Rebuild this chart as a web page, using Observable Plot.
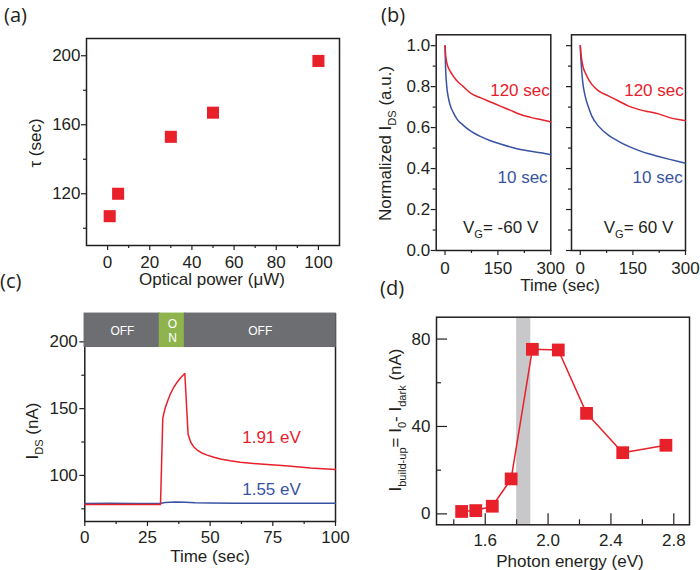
<!DOCTYPE html>
<html><head><meta charset="utf-8">
<script src="https://cdn.jsdelivr.net/npm/d3@7"></script>
<script src="https://cdn.jsdelivr.net/npm/@observablehq/plot@0.6"></script>
<style>
body{margin:0;background:#fff}
#fig{position:relative;width:700px;height:570px;overflow:hidden;background:#fff}
</style></head><body><div id="fig"></div>
<script>
const RED = "#e8202a", BLUE = "#3953a4", INK = "#231f20", GRAY_BAR = "#6d6e71", GREEN = "#8fb44e", BAND = "#c8c8ca";
const FONT = "'Liberation Sans', Arial, sans-serif";

// (a) relaxation time vs optical power
const aPower = [1, 5, 30, 50, 100];
const aTau = [107, 120, 153, 167, 197];
const aXMajor = [0, 20, 40, 60, 80, 100], aXMinor = [10, 30, 50, 70, 90];
const aYMajor = [120, 160, 200], aYMinor = [100, 140, 180];

// (b) normalized decay curves
const bLeftRedT = [0, 2, 4.8, 10, 14, 20, 33, 52, 71, 100, 129, 157, 186, 214, 243, 271, 300];
const bLeftRedV = [1.0, 0.95, 0.918, 0.89, 0.877, 0.86, 0.83, 0.80, 0.77, 0.746, 0.725, 0.705, 0.684, 0.664, 0.65, 0.639, 0.628];
const bLeftBlueT = [0, 1, 2, 5, 9.5, 14, 24, 33, 52, 71, 100, 129, 157, 186, 214, 243, 271, 300];
const bLeftBlueV = [1.0, 0.93, 0.877, 0.80, 0.746, 0.713, 0.672, 0.644, 0.611, 0.585, 0.557, 0.536, 0.52, 0.505, 0.493, 0.484, 0.477, 0.467];
const bRightRedT = [0, 2, 4.7, 9, 14, 22, 33, 52, 81, 109, 138, 166, 195, 223, 252, 280, 300];
const bRightRedV = [1.0, 0.96, 0.926, 0.89, 0.869, 0.84, 0.811, 0.779, 0.754, 0.73, 0.705, 0.689, 0.677, 0.667, 0.65, 0.639, 0.634];
const bRightBlueT = [0, 1, 2.8, 6.6, 14, 24, 33, 52, 81, 109, 138, 166, 195, 223, 252, 280, 300];
const bRightBlueV = [1.0, 0.96, 0.91, 0.828, 0.754, 0.697, 0.656, 0.607, 0.562, 0.533, 0.508, 0.489, 0.472, 0.459, 0.446, 0.434, 0.426];
const bXMajor = [0, 150, 300], bXMinor = [75, 225];
const bYMajor = [0, 0.2, 0.4, 0.6, 0.8, 1.0], bYMinor = [0.1, 0.3, 0.5, 0.7, 0.9];

// (c) I_DS vs time
const cRedT = [0, 10, 20, 30.2, 31.1, 31.6, 32.2, 33.0, 34.2, 35.5, 36.9, 38.4, 39.9, 41.2, 42.2, 43.4, 44.8, 46.5, 48.8, 51.5, 54.1, 58, 62, 70, 80, 90, 100];
const cRedV = [78.2, 78.2, 78.3, 78.3, 142.5, 147, 151.2, 155.5, 161.3, 166, 170, 173.5, 176.3, 130.8, 125, 121.5, 119, 117, 115.2, 113.6, 112.3, 110.9, 109.8, 108.5, 107.2, 105.6, 104.5];
const cBlueT = [0, 10, 20, 30, 32, 36, 40, 44, 50, 60, 70, 80, 90, 100];
const cBlueV = [79.0, 79.1, 79.0, 79.0, 79.8, 80.1, 80.0, 79.6, 79.4, 79.2, 79.1, 79.1, 79.2, 79.2];
const cPhaseStart = [0, 30, 40], cPhaseEnd = [30, 40, 100];
const cPhaseLabel = ["OFF", "O\nN", "OFF"], cPhaseOn = [false, true, false];
const cXMajor = [0, 25, 50, 75, 100], cXMinor = [12.5, 37.5, 62.5, 87.5];
const cYMajor = [100, 150, 200], cYMinor = [75, 125, 175];

// (d) build-up current vs photon energy
const dEnergy = [1.45, 1.54, 1.645, 1.765, 1.9, 2.065, 2.245, 2.475, 2.75];
const dBuildUp = [1.1, 1.5, 3.5, 16, 75.3, 75, 46, 28, 31.4];
const dBand = [1.80, 1.89];
const dXMajor = [1.6, 2.0, 2.4, 2.8], dXMinor = [1.4, 1.8, 2.2, 2.6];
const dYMajor = [0, 40, 80], dYMinor = [20, 60];

const fig = document.getElementById("fig");
const zip = (a, b) => a.map((x, i) => ({x, y: b[i]}));
const svgStyle = (l, t) => `position:absolute;left:${l}px;top:${t}px;font-family:${FONT};font-size:17px;color:${INK};background:transparent;overflow:visible;max-width:none`;
const none = () => "";

function outAxes(xMajor, xMinor, yMajor, yMinor, o = {}) {
  const {xFmt, yFmt, yText = true, xPad = 5, yPad = 2, major = 5, minor = 3} = o;
  return [
    Plot.axisX({ticks: xMajor, tickSize: major, tickPadding: xPad, tickFormat: xFmt, fontSize: 17, label: null, strokeWidth: 1.2}),
    Plot.axisX({ticks: xMinor, tickSize: minor, tickFormat: none, label: null, strokeWidth: 1.2}),
    Plot.axisY({ticks: yMajor, tickSize: major, tickPadding: yPad, tickFormat: yText ? yFmt : none, fontSize: 17, label: null, strokeWidth: 1.2}),
    Plot.axisY({ticks: yMinor, tickSize: minor, tickFormat: none, label: null, strokeWidth: 1.2})
  ];
}

function appendParts(sel, parts, size) {
  let shift = 0;
  for (const p of parts) {
    const isSub = Array.isArray(p);
    const ts = sel.append("tspan").text(isSub ? p[0] : p);
    const target = isSub ? Math.round(size * 0.3) : 0;
    if (target !== shift) { ts.attr("dy", target - shift); shift = target; }
    if (isSub) ts.attr("font-size", size * 0.65);
  }
}
function subify(svg, size) {
  d3.select(svg).selectAll("text").each(function () {
    const s = this.textContent;
    if (!s.includes("{")) return;
    const parts = s.split(/(\{[^}]*\})/).filter(Boolean).map(p => p[0] === "{" ? [p.slice(1, -1)] : p);
    this.textContent = "";
    appendParts(d3.select(this), parts, size);
  });
}

// ---------- (a)
fig.appendChild(Plot.plot({
  width: 350, height: 290, marginLeft: 86, marginRight: 11, marginTop: 38, marginBottom: 45,
  style: svgStyle(0, 0),
  x: {domain: [-10, 110]}, y: {domain: [90, 210]},
  marks: [
    ...outAxes(aXMajor, aXMinor, aYMajor, aYMinor, {xPad: 5, yPad: 1}),
    Plot.frame({stroke: INK, strokeWidth: 1.5}),
    Plot.dot(zip(aPower, aTau), {x: "x", y: "y", symbol: "square", r: 6.8, fill: RED})
  ]
}));

// ---------- (b) left
const bYDomain = [0, 1.053], bXDomain = [-25, 300];
const bLeft = Plot.plot({
  width: 190, height: 290, marginLeft: 55.7, marginRight: 19.7, marginTop: 34.3, marginBottom: 40,
  style: svgStyle(380, 0),
  x: {domain: bXDomain}, y: {domain: bYDomain},
  marks: [
    ...outAxes(bXMajor, bXMinor, bYMajor, bYMinor, {xPad: 6, yPad: 1, yFmt: d3.format(".1f")}),
    Plot.frame({stroke: INK, strokeWidth: 1.5}),
    Plot.line(zip(bLeftBlueT, bLeftBlueV), {x: "x", y: "y", stroke: BLUE, strokeWidth: 1.5, curve: "monotone-x"}),
    Plot.line(zip(bLeftRedT, bLeftRedV), {x: "x", y: "y", stroke: RED, strokeWidth: 1.5, curve: "monotone-x"}),
    Plot.text(["120 sec"], {x: 297, y: 0.782, textAnchor: "end", fill: RED, fontSize: 17}),
    Plot.text(["10 sec"], {x: 291, y: 0.355, textAnchor: "end", fill: BLUE, fontSize: 17}),
    Plot.text(["V{G}= -60 V"], {x: 51, y: 0.111, textAnchor: "start", fill: INK, fontSize: 17})
  ]
});
subify(bLeft, 17);
fig.appendChild(bLeft);

// ---------- (b) right
const bRight = Plot.plot({
  width: 140, height: 290, marginLeft: 11, marginRight: 15, marginTop: 34.3, marginBottom: 40,
  style: svgStyle(560, 0),
  x: {domain: bXDomain}, y: {domain: bYDomain},
  marks: [
    ...outAxes(bXMajor, bXMinor, bYMajor, bYMinor, {xPad: 6, yText: false}),
    Plot.frame({stroke: INK, strokeWidth: 1.5}),
    Plot.line(zip(bRightBlueT, bRightBlueV), {x: "x", y: "y", stroke: BLUE, strokeWidth: 1.5, curve: "monotone-x"}),
    Plot.line(zip(bRightRedT, bRightRedV), {x: "x", y: "y", stroke: RED, strokeWidth: 1.5, curve: "monotone-x"}),
    Plot.text(["120 sec"], {x: 295, y: 0.782, textAnchor: "end", fill: RED, fontSize: 17}),
    Plot.text(["10 sec"], {x: 292, y: 0.355, textAnchor: "end", fill: BLUE, fontSize: 17}),
    Plot.text(["V{G}= 60 V"], {x: 67, y: 0.111, textAnchor: "start", fill: INK, fontSize: 17})
  ]
});
subify(bRight, 17);
fig.appendChild(bRight);

// ---------- (c)
const cYDomain = [65.5, 221], cBarBottom = 196.3;
const cPhases = cPhaseStart.map((s, i) => ({s, e: cPhaseEnd[i], label: cPhaseLabel[i], on: cPhaseOn[i]}));
fig.appendChild(Plot.plot({
  width: 350, height: 280, marginLeft: 84.3, marginRight: 15, marginTop: 23.3, marginBottom: 49,
  style: svgStyle(0, 290),
  x: {domain: [0, 100]}, y: {domain: cYDomain},
  marks: [
    ...outAxes(cXMajor, cXMinor, cYMajor, cYMinor, {xPad: 4, yPad: 2}),
    Plot.frame({stroke: INK, strokeWidth: 1.5}),
    Plot.rect(cPhases, {x1: "s", x2: "e", y1: cBarBottom, y2: cYDomain[1], fill: d => d.on ? GREEN : GRAY_BAR, stroke: d => d.on ? GREEN : GRAY_BAR, strokeWidth: 1.5}),
    Plot.text(cPhases, {x: d => (d.s + d.e) / 2, y: (cBarBottom + cYDomain[1]) / 2, text: "label", fill: "white", fontSize: 12, lineHeight: 1.2}),
    Plot.line(zip(cBlueT, cBlueV), {x: "x", y: "y", stroke: BLUE, strokeWidth: 1.5}),
    Plot.line(zip(cRedT, cRedV), {x: "x", y: "y", stroke: RED, strokeWidth: 1.5}),
    Plot.text(["1.91 eV"], {x: 62.8, y: 128.3, textAnchor: "start", fill: RED, fontSize: 17}),
    Plot.text(["1.55 eV"], {x: 62.8, y: 89.6, textAnchor: "start", fill: BLUE, fontSize: 17})
  ]
}));

// ---------- (d)
const dXDomain = [1.29, 2.9], dYDomain = [-5, 90];
const dInnerH = 280 - 26.7 - 45.7, dInnerW = 350 - 86 - 11;
fig.appendChild(Plot.plot({
  width: 350, height: 280, marginLeft: 86, marginRight: 11, marginTop: 26.7, marginBottom: 45.7,
  style: svgStyle(350, 290),
  x: {domain: dXDomain}, y: {domain: dYDomain},
  marks: [
    Plot.rect([dBand], {x1: d => d[0], x2: d => d[1], y1: dYDomain[0], y2: dYDomain[1], fill: BAND}),
    Plot.tickX(dXMajor, {x: d => d, insetTop: dInnerH - 11, stroke: INK, strokeWidth: 1.2}),
    Plot.tickX(dXMinor, {x: d => d, insetTop: dInnerH - 5, stroke: INK, strokeWidth: 1.2}),
    Plot.tickY(dYMajor, {y: d => d, insetRight: dInnerW - 11, stroke: INK, strokeWidth: 1.2}),
    Plot.tickY(dYMinor, {y: d => d, insetRight: dInnerW - 5, stroke: INK, strokeWidth: 1.2}),
    Plot.axisX({ticks: dXMajor, tickSize: 0, tickPadding: 9, tickFormat: d3.format(".1f"), fontSize: 17, label: null}),
    Plot.axisY({ticks: dYMajor, tickSize: 0, tickPadding: 6, fontSize: 17, label: null}),
    Plot.frame({stroke: INK, strokeWidth: 1.5}),
    Plot.line(zip(dEnergy, dBuildUp), {x: "x", y: "y", stroke: RED, strokeWidth: 1.5}),
    Plot.dot(zip(dEnergy, dBuildUp), {x: "x", y: "y", symbol: "square", r: 7.2, fill: RED})
  ]
}));

// ---------- overlay: panel letters and axis titles
const overlay = d3.create("svg").attr("width", 700).attr("height", 570)
  .attr("style", "position:absolute;left:0;top:0;overflow:visible;pointer-events:none")
  .attr("font-family", FONT).attr("fill", INK);
function label(parts, x, y, {rotate = false, size = 17, anchor = "middle", family = FONT} = {}) {
  const t = overlay.append("text").attr("x", x).attr("y", y).attr("font-size", size)
    .attr("text-anchor", anchor).attr("font-family", family);
  if (rotate) t.attr("transform", `rotate(-90 ${x} ${y})`);
  appendParts(t, parts, size);
}
const LETTER = "'Open Sans', sans-serif";
label(["(a)"], 4, 22, {size: 20, anchor: "start", family: LETTER});
label(["(b)"], 381, 22, {size: 20, anchor: "start", family: LETTER});
label(["(c)"], 0, 288, {size: 20, anchor: "start", family: LETTER});
label(["(d)"], 380, 295, {size: 20, anchor: "start", family: LETTER});

label(["\u03c4 (sec)"], 41, 143, {rotate: true});
label(["Optical power (\u03bcW)"], 212, 285);
label(["Normalized I", ["DS"], " (a.u.)"], 390.5, 143.5, {rotate: true});
label(["Time (sec)"], 560, 291);
label(["I", ["DS"], " (nA)"], 37.5, 431, {rotate: true});
label(["Time (sec)"], 210, 562);
label(["I", ["build-up"], "= I", ["0"], "- I", ["dark"], " (nA)"], 401, 420, {rotate: true});
label(["Photon energy (eV)"], 570, 567);
fig.appendChild(overlay.node());
</script></body></html>
